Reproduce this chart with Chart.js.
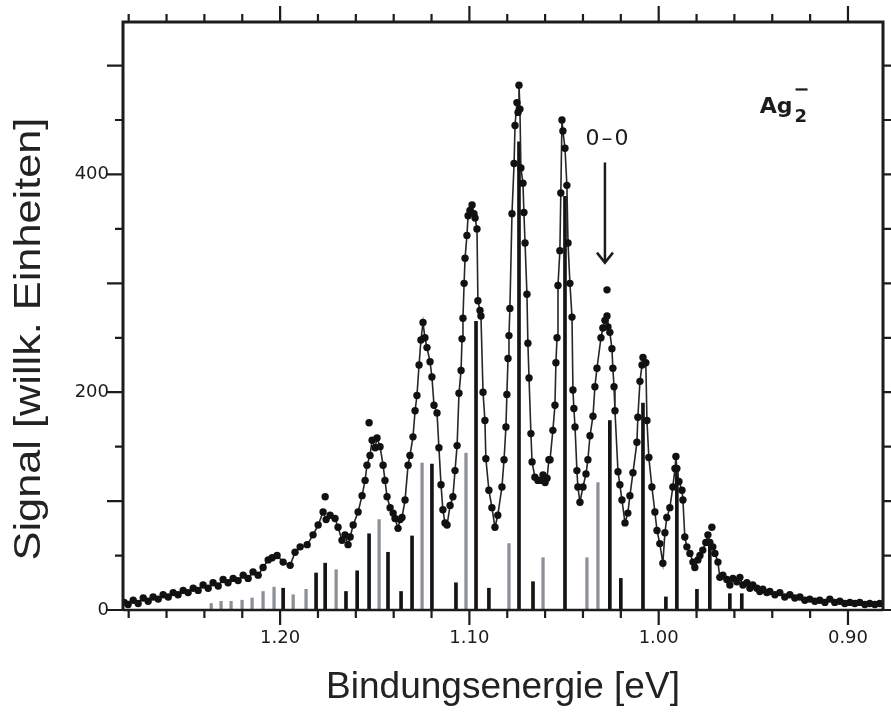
<!DOCTYPE html>
<html>
<head>
<meta charset="utf-8">
<script src="https://cdn.jsdelivr.net/npm/chart.js@4/dist/chart.umd.min.js"></script>
<style>
  html, body { margin: 0; padding: 0; background: #ffffff; }
  #wrap { width: 891px; height: 714px; position: relative; }
</style>
</head>
<body>
<div id="wrap"><canvas id="c" width="891" height="714"></canvas></div>
<script>
// ---- data ----
const xTickLabels = [1.20, 1.10, 1.00, 0.90];
const yTickLabels = [0, 200, 400];
const xRange = [0.8815, 1.283];
const yRange = [0, 540];

const energy = [1.2824,1.2803,1.2776,1.2750,1.2723,1.2697,1.2671,1.2644,1.2618,1.2591,1.2565,1.2539,1.2512,1.2486,1.2459,1.2433,1.2407,1.2380,1.2354,1.2327,1.2301,1.2275,1.2248,1.2222,1.2195,1.2169,1.2143,1.2116,1.2090,1.2063,1.2042,1.2016,1.1984,1.1947,1.1921,1.1894,1.1857,1.1826,1.1799,1.1773,1.1757,1.1736,1.1710,1.1694,1.1673,1.1657,1.1641,1.1630,1.1614,1.1588,1.1567,1.1551,1.1541,1.1525,1.1514,1.1498,1.1488,1.1472,1.1456,1.1446,1.1435,1.1419,1.1403,1.1393,1.1377,1.1366,1.1356,1.1340,1.1324,1.1314,1.1298,1.1287,1.1277,1.1266,1.1256,1.1245,1.1235,1.1224,1.1208,1.1198,1.1187,1.1171,1.1161,1.1150,1.1140,1.1129,1.1118,1.1102,1.1087,1.1076,1.1065,1.1055,1.1044,1.1039,1.1034,1.1028,1.1023,1.1013,1.1007,1.0997,1.0986,1.0976,1.0970,1.0960,1.0955,1.0944,1.0939,1.0928,1.0918,1.0913,1.0897,1.0881,1.0865,1.0850,1.0828,1.0817,1.0807,1.0802,1.0796,1.0791,1.0786,1.0775,1.0764,1.0759,1.0749,1.0743,1.0738,1.0733,1.0728,1.0717,1.0712,1.0706,1.0696,1.0691,1.0685,1.0675,1.0669,1.0654,1.0638,1.0627,1.0611,1.0600,1.0590,1.0580,1.0574,1.0559,1.0548,1.0543,1.0537,1.0532,1.0522,1.0517,1.0511,1.0506,1.0495,1.0485,1.0479,1.0469,1.0458,1.0453,1.0448,1.0442,1.0432,1.0427,1.0416,1.0400,1.0384,1.0374,1.0363,1.0347,1.0337,1.0326,1.0305,1.0295,1.0284,1.0273,1.0268,1.0258,1.0247,1.0242,1.0236,1.0231,1.0215,1.0205,1.0194,1.0178,1.0163,1.0152,1.0136,1.0115,1.0110,1.0099,1.0088,1.0083,1.0068,1.0062,1.0052,1.0036,1.0020,1.0009,0.9994,0.9978,0.9967,0.9957,0.9941,0.9925,0.9914,0.9909,0.9904,0.9893,0.9877,0.9872,0.9862,0.9851,0.9835,0.9819,0.9809,0.9793,0.9782,0.9767,0.9751,0.9740,0.9730,0.9714,0.9703,0.9687,0.9677,0.9661,0.9640,0.9624,0.9608,0.9587,0.9571,0.9555,0.9534,0.9518,0.9503,0.9481,0.9466,0.9450,0.9429,0.9413,0.9386,0.9360,0.9334,0.9307,0.9281,0.9254,0.9228,0.9202,0.9175,0.9149,0.9122,0.9096,0.9070,0.9043,0.9017,0.8990,0.8964,0.8938,0.8911,0.8885,0.8858,0.8832];
const signal = [7,5,9,6,11,8,12,10,14,12,16,14,18,16,20,18,23,20,25,22,28,25,29,27,32,29,35,32,39,46,48,50,44,41,53,58,60,69,78,90,83,87,84,76,64,69,60,67,78,90,105,119,133,142,156,149,158,150,133,119,104,94,89,84,75,83,85,101,133,142,159,183,197,225,248,264,250,241,228,214,188,181,149,115,92,80,78,96,104,128,151,199,220,249,268,300,323,344,362,367,372,364,360,350,284,275,270,200,174,139,110,94,76,87,113,138,168,198,231,252,277,364,410,445,466,457,482,460,406,392,365,337,290,245,213,162,136,122,119,119,124,117,121,138,138,165,188,227,250,298,330,383,450,440,424,390,337,300,269,202,185,168,128,113,99,113,125,138,160,178,205,222,250,259,266,270,260,255,240,222,205,183,127,115,101,80,89,105,126,154,177,210,225,232,227,174,140,113,90,73,61,43,71,85,94,113,130,141,130,118,110,101,67,58,52,44,39,46,50,55,62,69,62,58,52,44,30,32,28,23,29,26,30,23,25,20,23,20,17,19,16,17,14,16,12,14,11,12,9,10,8,9,7,10,7,8,6,7,6,7,5,6,5,6];

// isolated data points lying off the drawn curve
const strayEnergy = [1.1762, 1.1530, 1.0273, 0.9719];
const straySignal = [104, 172, 294, 76];

// calculated Franck-Condon sticks
const stickBlackEnergy = [1.1984,1.1810,1.1762,1.1652,1.1593,1.1530,1.1430,1.1361,1.1303,1.1198,1.1071,1.0965,1.0897,1.0738,1.0664,1.0495,1.0258,1.0200,1.0083,0.9962,0.9904,0.9798,0.9730,0.9624,0.9561];
const stickBlackHeight = [20,34,43,17,36,70,53,17,68,134,25,265,20,430,26,380,174,29,190,12,131,19,61,15,15];
const stickGrayEnergy = [1.2364,1.2312,1.2259,1.2201,1.2148,1.2090,1.2032,1.1931,1.1863,1.1704,1.1477,1.1250,1.1018,1.0791,1.0611,1.0379,1.0321];
const stickGrayHeight = [6,8,8,9,11,17,21,14,19,37,83,135,144,61,48,48,117];

// annotations (data coordinates)
const bandLabel = { text: '0\u20130', x: 1.0268, y: 432 };
const bandArrow = { x: 1.0284, yTop: 411, yTip: 319 };
const speciesLabel = { x: 0.9466, y: 456 };

// ---- chart ----
const pts = (xs, ys) => xs.map((x, i) => ({ x: x, y: ys[i] }));
const INK = '#1c1c1c';

const framePlugin = {
  id: 'frame',
  afterDraw(chart) {
    const { ctx, chartArea: a, scales: { x, y } } = chart;
    ctx.save();
    ctx.strokeStyle = INK;
    ctx.lineCap = 'butt';
    // frame
    ctx.lineWidth = 3;
    ctx.beginPath();
    ctx.moveTo(a.left, a.bottom); ctx.lineTo(a.left, a.top); ctx.lineTo(a.right, a.top); ctx.lineTo(a.right, a.bottom);
    ctx.stroke();
    ctx.lineWidth = 2.5;
    ctx.beginPath(); ctx.moveTo(a.left, a.bottom); ctx.lineTo(a.right, a.bottom); ctx.stroke();
    // x ticks (bottom + top), minor every 0.02, major every 0.10
    ctx.lineWidth = 2.2;
    for (let k = 44; k <= 64; k++) {
      const v = k * 0.02;
      if (v < xRange[0] || v > xRange[1]) continue;
      const px = x.getPixelForValue(v);
      const major = k % 5 === 0;
      ctx.beginPath();
      ctx.moveTo(px, a.bottom); ctx.lineTo(px, a.bottom + (major ? 15 : 8));
      ctx.moveTo(px, a.top); ctx.lineTo(px, a.top - (major ? 16 : 8));
      ctx.stroke();
    }
    // y ticks (left + right), short every 50, long every 100
    for (let v = 0; v <= 500; v += 50) {
      const py = y.getPixelForValue(v);
      const major = v % 100 === 0;
      ctx.beginPath();
      ctx.moveTo(a.left, py); ctx.lineTo(a.left - (major ? 16 : 8), py);
      ctx.moveTo(a.right, py); ctx.lineTo(a.right + 10, py);
      ctx.stroke();
    }
    // y axis title
    ctx.fillStyle = '#222';
    ctx.font = '37px "Liberation Sans", Arial, sans-serif';
    ctx.textAlign = 'center';
    ctx.textBaseline = 'middle';
    ctx.translate(30, 339);
    ctx.rotate(-Math.PI / 2);
    ctx.scale(1.17, 1);
    ctx.fillText('Signal [willk. Einheiten]', 0, 0);
    ctx.restore();

    // annotations
    ctx.save();
    ctx.fillStyle = INK;
    ctx.strokeStyle = INK;
    ctx.font = '22px "DejaVu Sans", sans-serif';
    ctx.textAlign = 'center';
    ctx.textBaseline = 'middle';
    try { ctx.letterSpacing = '2px'; } catch (e) {}
    ctx.fillText(bandLabel.text, x.getPixelForValue(bandLabel.x), y.getPixelForValue(bandLabel.y));
    try { ctx.letterSpacing = '0px'; } catch (e) {}
    const ax = x.getPixelForValue(bandArrow.x);
    const at = y.getPixelForValue(bandArrow.yTop);
    const ab = y.getPixelForValue(bandArrow.yTip);
    ctx.lineWidth = 2.5;
    ctx.beginPath(); ctx.moveTo(ax, at); ctx.lineTo(ax, ab); ctx.stroke();
    ctx.beginPath(); ctx.moveTo(ax - 8, ab - 10); ctx.lineTo(ax, ab); ctx.lineTo(ax + 8, ab - 10); ctx.stroke();

    // species label Ag2-
    const sx = x.getPixelForValue(speciesLabel.x);
    const sy = y.getPixelForValue(speciesLabel.y);
    ctx.textAlign = 'left';
    ctx.textBaseline = 'alphabetic';
    ctx.font = 'bold 22px "DejaVu Sans", sans-serif';
    ctx.fillText('Ag', sx, sy);
    const w = ctx.measureText('Ag').width;
    ctx.font = 'bold 18px "DejaVu Sans", sans-serif';
    ctx.fillText('2', sx + w + 2, sy + 9);
    ctx.lineWidth = 2.2;
    ctx.beginPath(); ctx.moveTo(sx + w + 3, sy - 24); ctx.lineTo(sx + w + 15, sy - 24); ctx.stroke();
    ctx.restore();
  }
};

new Chart(document.getElementById('c'), {
  type: 'scatter',
  data: {
    datasets: [
      {
        type: 'line',
        label: 'Messung',
        data: pts(energy, signal),
        borderColor: '#262626',
        borderWidth: 1.6,
        pointRadius: 3.7,
        pointBackgroundColor: '#111',
        pointBorderWidth: 0,
        tension: 0,
        order: 1
      },
      {
        type: 'scatter',
        label: 'Einzelpunkte',
        data: pts(strayEnergy, straySignal),
        pointRadius: 3.7,
        pointBackgroundColor: '#111',
        pointBorderWidth: 0,
        showLine: false,
        order: 0
      },
      {
        type: 'bar',
        label: 'FC schwarz',
        data: pts(stickBlackEnergy, stickBlackHeight),
        backgroundColor: '#141414',
        barThickness: 3,
        grouped: false,
        order: 3
      },
      {
        type: 'bar',
        label: 'FC grau',
        data: pts(stickGrayEnergy, stickGrayHeight),
        backgroundColor: '#8b9197',
        barThickness: 2.6,
        grouped: false,
        order: 4
      }
    ]
  },
  options: {
    responsive: false,
    animation: false,
    events: [],
    layout: { padding: { top: 22, right: 8, left: 0, bottom: 0 } },
    plugins: { legend: { display: false }, tooltip: { enabled: false } },
    scales: {
      x: {
        type: 'linear',
        reverse: true,
        offset: false,
        min: xRange[0],
        max: xRange[1],
        grid: { display: false, drawTicks: false },
        border: { display: false },
        afterBuildTicks: (s) => { s.ticks = xTickLabels.map(v => ({ value: v })); },
        afterFit: (s) => { s.height = 104; s.paddingLeft = 0; s.paddingRight = 0; },
        ticks: {
          autoSkip: false,
          maxRotation: 0,
          padding: 18,
          color: '#1c1c1c',
          font: { family: 'DejaVu Sans', size: 18 },
          callback: (v) => Number(v).toFixed(2)
        },
        title: {
          display: true,
          text: 'Bindungsenergie [eV]',
          color: '#222',
          font: { family: 'Liberation Sans', size: 37 },
          padding: { top: 0, bottom: 4 }
        }
      },
      y: {
        type: 'linear',
        min: yRange[0],
        max: yRange[1],
        grid: { display: false, drawTicks: false },
        border: { display: false },
        afterBuildTicks: (s) => { s.ticks = yTickLabels.map(v => ({ value: v })); },
        afterFit: (s) => { s.width = 123; s.paddingTop = 0; s.paddingBottom = 0; },
        ticks: {
          padding: 14,
          color: '#1c1c1c',
          font: { family: 'DejaVu Sans', size: 18 },
          callback: (v) => String(v)
        }
      }
    }
  },
  plugins: [framePlugin]
});
</script>
</body>
</html>
